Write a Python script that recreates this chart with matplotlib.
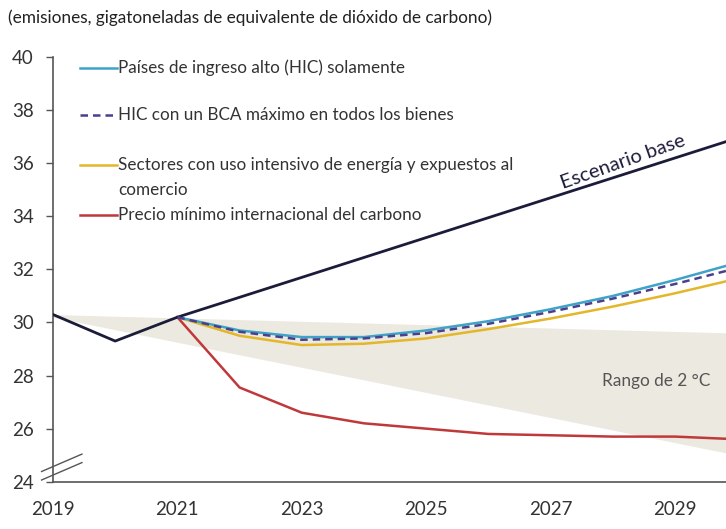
import matplotlib
matplotlib.use("Agg")
import matplotlib.pyplot as plt

plt.rcParams['font.family'] = ['Lato', 'DejaVu Sans']

years_base = [2019, 2020, 2021, 2022, 2023, 2024, 2025, 2026, 2027, 2028, 2029, 2030]
baseline = [30.3, 29.3, 30.2, 30.95, 31.7, 32.45, 33.2, 33.95, 34.7, 35.45, 36.2, 36.95]

years = [2021, 2022, 2023, 2024, 2025, 2026, 2027, 2028, 2029, 2030]
hic_only = [30.2, 29.7, 29.45, 29.45, 29.7, 30.05, 30.5, 31.0, 31.6, 32.25]
hic_bca = [30.2, 29.65, 29.35, 29.4, 29.6, 29.95, 30.4, 30.9, 31.45, 32.05]
eite = [30.2, 29.5, 29.15, 29.2, 29.4, 29.75, 30.15, 30.6, 31.1, 31.65]
carbon_floor = [30.2, 27.55, 26.6, 26.2, 26.0, 25.8, 25.75, 25.7, 25.7, 25.6]

range_years = [2019, 2030]
range_upper = [30.3, 29.6]
range_lower = [30.2, 25.0]

xticks = [2019, 2021, 2023, 2025, 2027, 2029]
yticks = [24, 26, 28, 30, 32, 34, 36, 38, 40]

labels = ["Países de ingreso alto (HIC) solamente",
          "HIC con un BCA máximo en todos los bienes",
          "Sectores con uso intensivo de energía y expuestos al\ncomercio",
          "Precio mínimo internacional del carbono"]

fig = plt.figure(figsize=(7.26, 5.29), dpi=100)
ax = fig.add_axes([0.073, 0.0894, 0.927, 0.8026])

ax.fill_between(range_years, range_lower, range_upper, color='#ece9e0', lw=0, zorder=1)
ax.plot(years_base, baseline, color='#1b1c3a', lw=2.0, zorder=5)
ax.plot(years, hic_only, color='#3fa3c8', lw=1.8, zorder=4)
ax.plot(years, hic_bca, color='#4a3f8c', lw=1.8, ls=(0, (3, 2)), zorder=5)
ax.plot(years, eite, color='#e4b62a', lw=1.8, zorder=3)
ax.plot(years, carbon_floor, color='#c0393a', lw=1.8, zorder=3)

ax.set_xlim(2019, 2029.82)
ax.set_ylim(24, 40)
ax.set_xticks(xticks)
ax.set_yticks(yticks)
ax.tick_params(axis='x', length=0, pad=14, labelsize=13.5, labelcolor='#333333')
ax.tick_params(axis='y', length=5, width=1, color='#555555', pad=9, labelsize=13.5, labelcolor='#333333')
for s in ['top', 'right']:
    ax.spines[s].set_visible(False)
ax.spines['left'].set_color('#555555')
ax.spines['bottom'].set_color('#555555')
ax.spines['left'].set_linewidth(1.2)
ax.spines['bottom'].set_linewidth(1.2)

# axis break marks
ax.plot([-0.017, 0.043], [0.024, 0.065], transform=ax.transAxes, color='#555555', lw=1, clip_on=False)
ax.plot([-0.017, 0.043], [0.004, 0.045], transform=ax.transAxes, color='#555555', lw=1, clip_on=False)

# legend drawn manually
leg_colors = ['#3fa3c8', '#4a3f8c', '#e4b62a', '#c0393a']
leg_styles = ['-', (0, (3, 2)), '-', '-']
leg_y = [0.975, 0.864, 0.747, 0.628]
for lab, c, st, yy in zip(labels, leg_colors, leg_styles, leg_y):
    ax.plot([0.04, 0.095], [yy, yy], transform=ax.transAxes, color=c, ls=st, lw=1.8, clip_on=False)
    for i, part in enumerate(lab.split('\n')):
        ax.text(0.097, yy - i * 0.059, part, transform=ax.transAxes, fontsize=12.3,
                color='#333333', va='center', ha='left')

ax.text(2028.16, 36.05, "Escenario base", rotation=19.5, fontsize=14.5, color='#1b1c3a',
        ha='center', va='center', rotation_mode='anchor')
ax.text(2028.7, 27.8, "Rango de 2 °C", fontsize=12.4, color='#555555', ha='center', va='center')

fig.text(0.011, 0.966, "(emisiones, gigatoneladas de equivalente de dióxido de carbono)",
         fontsize=12.4, color='#222222', ha='left', va='center')

fig.savefig("out.png", dpi=100)
